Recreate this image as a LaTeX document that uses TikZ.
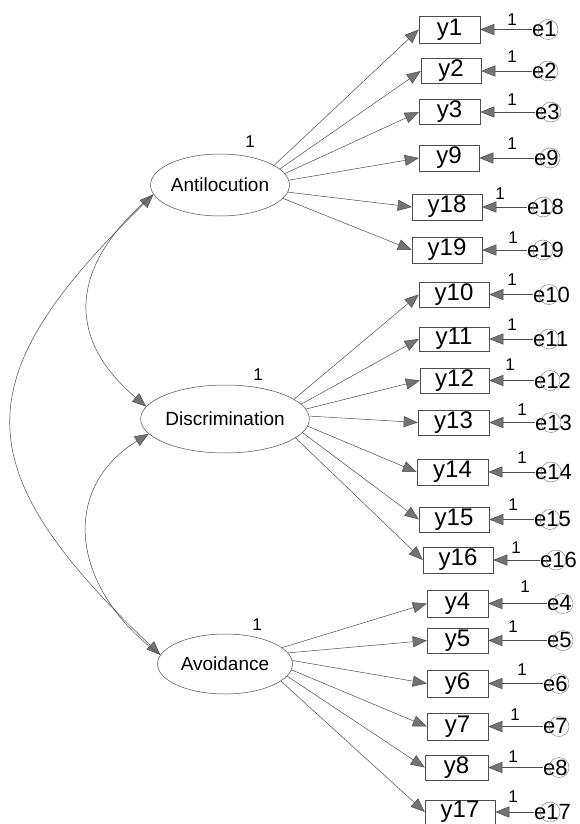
\documentclass[tikz,border=0pt]{standalone}
\usepackage{fontspec}
\setmainfont{Liberation Sans}
\usetikzlibrary{arrows.meta,shapes.geometric,calc}
\begin{document}
\begin{tikzpicture}[x=1pt,y=-1pt,
  ln/.style={draw=black!70, line width=0.5pt},
  tip/.tip={Triangle[length=14pt,width=11pt,fill=black!55]},
  arr/.style={ln, -tip},
  arr2/.style={ln, tip-tip},
  obs/.style={draw=black!70, line width=0.5pt, rectangle, inner sep=0pt, font=\fontsize{24}{24}\selectfont},
  lat/.style={draw=black!70, line width=0.5pt, ellipse, inner sep=0pt, font=\fontsize{19}{19}\selectfont},
  err/.style={inner sep=0pt, anchor=west, font=\fontsize{22}{22}\selectfont},
  one/.style={inner sep=0pt, font=\fontsize{17}{17}\selectfont},
  ring/.style={draw=black!55, line width=0.4pt},
]
\useasboundingbox (0,0) rectangle (579,824);

% latent variables
\node[lat, minimum width=134pt, minimum height=62pt] (A) at (220,185) {Antilocution};
\node[lat, minimum width=136pt, minimum height=68pt] (D) at (225,419) {Discrimination};
\node[lat, minimum width=135pt, minimum height=60pt] (V) at (225,664) {Avoidance};
\node[one] (A1) at (250,142) {1};
\node[one] (D1) at (258,375) {1};
\node[one] (V1) at (257,625) {1};

% observed variables
\foreach \n/\x/\y/\w/\h in {
  y1/449.5/29.5/61/27, y2/451/71/60/25, y3/449.5/112/61/25, y9/449/158/60/26,
  y18/447/207/70/26, y19/447/250/70/26,
  y10/454/294.5/70/25, y11/454/339/70/24, y12/454.5/380.5/69/25, y13/453.5/422.5/71/25,
  y14/452.5/472/71/26, y15/454/519.5/70/25, y16/458/560/70/26,
  y4/457.5/603.5/61/27, y5/457.5/640.5/61/25, y6/457.5/683.5/61/27,
  y7/457.5/726.5/61/27, y8/456.5/767.5/63/25, y17/460/812/70/24}
  \node[obs, minimum width=\w pt, minimum height=\h pt] (\n) at (\x,\y) {\n};

% error terms
\foreach \e/\v/\x/\y/\lx/\ly in {
  e1/y1/532/29.5/512/20, e2/y2/532/71/512/57, e3/y3/535/112/512/100,
  e9/y9/534/158/512/144, e18/y18/527/207/500/194, e19/y19/527/250/513/238,
  e10/y10/533/294.5/512/280, e11/y11/533/339/512/325, e12/y12/534/380.5/510/365,
  e13/y13/535/422.5/522/410, e14/y14/535/472/522/458, e15/y15/534/519.5/513/505,
  e16/y16/540/560/516/548,
  e4/y4/547/603.5/525/587, e5/y5/547/640.5/513/627, e6/y6/543/683.5/522/670,
  e7/y7/543/726.5/515/715, e8/y8/543/767.5/513/757, e17/y17/534/812/513/797}
{
  \node[err] (\e) at (\x,\y) {\e};
  \draw[ring] ($(\e.west)+(16,0)$) circle (10pt);
  \draw[arr] (\e.west) -- (\v.east);
  \node[one] (l\e) at (\lx,\ly) {1};
}

% loadings
\foreach \t/\a in {y1/20,y2/15,y3/10,y9/4,y18/-6,y19/-12}
  \draw[arr] (A.\a) -- (\t.west);
\foreach \t/\a in {y10/16,y11/11,y12/7,y13/2,y14/-5,y15/-10,y16/-15}
  \draw[arr] (D.\a) -- (\t.west);
\foreach \t/\a in {y4/16,y5/10,y6/3,y7/-5,y8/-11,y17/-17}
  \draw[arr] (V.\a) -- (\t.west);

% covariances
\draw[arr2] (A.188) .. controls (-36,379) and (-36,468) .. (V.172);
\draw[arr] (A.188) .. controls (72,262) and (62,335) .. (D.171);
\draw[arr] (V.172) .. controls (72,590) and (58,490) .. (D.191);
\end{tikzpicture}
\end{document}
